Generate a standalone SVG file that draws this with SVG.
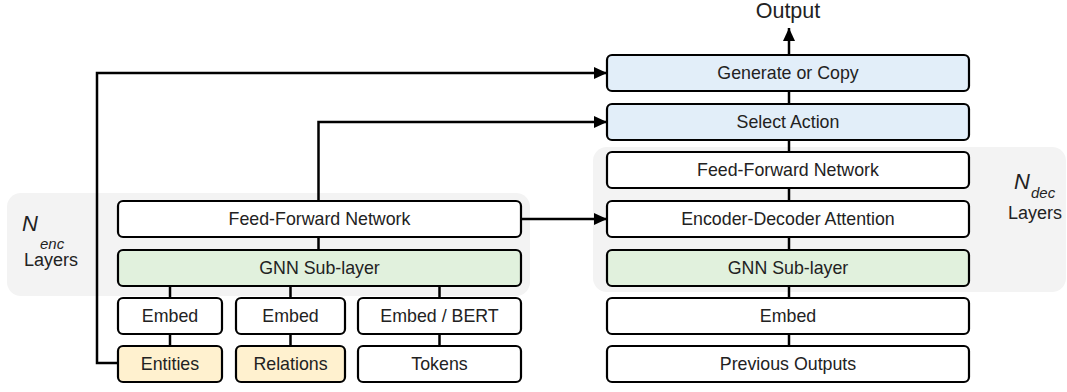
<svg xmlns="http://www.w3.org/2000/svg" width="1067" height="392" viewBox="0 0 1067 392">
<defs>
<marker id="arr" markerUnits="userSpaceOnUse" markerWidth="14" markerHeight="14" viewBox="0 0 14 14" refX="13" refY="7" orient="auto">
<path d="M0,1 L13,7 L0,13 Z" fill="#000"/>
</marker>
</defs>
<style>
.box{stroke:#000;stroke-width:2.2;fill:#fff}
.blue{fill:#e2eef9}
.green{fill:#e1f1dd}
.yellow{fill:#fff1cf}
.bg{fill:#f3f3f3}
text{font-family:"Liberation Sans",Arial,sans-serif;font-size:17.8px;fill:#222;text-anchor:middle}
.lab{text-anchor:start}
.big{font-size:22px;font-style:italic}
.sub{font-size:15px;font-style:italic}
.lay{font-size:18px}
.out{font-size:21.5px}
.con{stroke:#000;stroke-width:2.5;fill:none}
</style>
<rect class="bg" x="7" y="193" width="523" height="103" rx="14"/>
<rect class="bg" x="593" y="147" width="473" height="145" rx="14"/>
<g id="nenc">
<text class="lab big" x="22" y="231">N</text>
<text class="lab sub" x="40" y="249">enc</text>
<text class="lab lay" x="24" y="266">Layers</text>
</g>
<g id="ndec">
<text class="lab big" x="1014" y="189">N</text>
<text class="lab sub" x="1031" y="198">dec</text>
<text class="lab lay" x="1008" y="219">Layers</text>
</g>
<g id="connectors">
<path class="con" d="M118,363 H97 V73 H607" marker-end="url(#arr)"/>
<path class="con" d="M318.5,201 V122 H607" marker-end="url(#arr)"/>
<path class="con" d="M521,219 H607" marker-end="url(#arr)"/>
<path class="con" d="M789,55 V28" marker-end="url(#arr)"/>
<path class="con" d="M789,346 V91"/>
<path class="con" d="M318.5,237 V250"/>
<path class="con" d="M170,286 V346"/>
<path class="con" d="M290.5,286 V346"/>
<path class="con" d="M439.5,286 V346"/>
</g>
<g id="output"><text class="out" x="788" y="18">Output</text></g>
<g id="enc-ffn"><rect class="box" x="118" y="201" width="403" height="36" rx="5"/><text x="319.5" y="225">Feed-Forward Network</text></g>
<g id="enc-gnn"><rect class="box green" x="118" y="250" width="403" height="36" rx="5"/><text x="319.5" y="274">GNN Sub-layer</text></g>
<g id="embed-ent"><rect class="box" x="118" y="298" width="104" height="36" rx="5"/><text x="170" y="322">Embed</text></g>
<g id="embed-rel"><rect class="box" x="236" y="298" width="109" height="36" rx="5"/><text x="290.5" y="322">Embed</text></g>
<g id="embed-tok"><rect class="box" x="358" y="298" width="163" height="36" rx="5"/><text x="439.5" y="322">Embed / BERT</text></g>
<g id="entities"><rect class="box yellow" x="118" y="346" width="104" height="36" rx="5"/><text x="170" y="370">Entities</text></g>
<g id="relations"><rect class="box yellow" x="236" y="346" width="109" height="36" rx="5"/><text x="290.5" y="370">Relations</text></g>
<g id="tokens"><rect class="box" x="358" y="346" width="163" height="36" rx="5"/><text x="439.5" y="370">Tokens</text></g>
<g id="gen-copy"><rect class="box blue" x="607" y="55" width="362" height="36" rx="5"/><text x="788" y="79">Generate or Copy</text></g>
<g id="select"><rect class="box blue" x="607" y="104" width="362" height="36" rx="5"/><text x="788" y="128">Select Action</text></g>
<g id="dec-ffn"><rect class="box" x="607" y="152" width="362" height="36" rx="5"/><text x="788" y="176">Feed-Forward Network</text></g>
<g id="encdec"><rect class="box" x="607" y="201" width="362" height="36" rx="5"/><text x="788" y="225">Encoder-Decoder Attention</text></g>
<g id="dec-gnn"><rect class="box green" x="607" y="250" width="362" height="36" rx="5"/><text x="788" y="274">GNN Sub-layer</text></g>
<g id="dec-embed"><rect class="box" x="607" y="298" width="362" height="36" rx="5"/><text x="788" y="322">Embed</text></g>
<g id="prev"><rect class="box" x="607" y="346" width="362" height="36" rx="5"/><text x="788" y="370">Previous Outputs</text></g>
</svg>
